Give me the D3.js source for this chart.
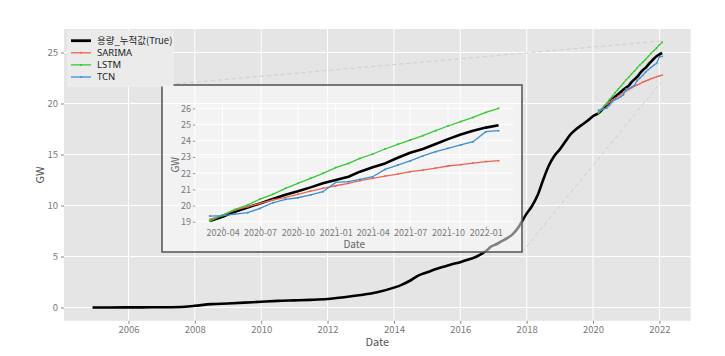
<!DOCTYPE html>
<html><head><meta charset="utf-8">
<script src="https://cdn.jsdelivr.net/npm/d3@7"></script>
<style>body{margin:0;background:#fff} text{font-family:"Noto Sans CJK KR","Noto Sans",sans-serif}</style>
</head><body><svg id="c" width="725" height="356"></svg>
<script>
const trueDates = ["2004-12","2005-06","2006-06","2007-01","2007-08","2008-01","2008-07","2009-01","2009-07","2010-01","2010-07","2011-01","2011-07","2012-01","2012-07","2013-01","2013-07","2014-01","2014-04","2014-07","2014-10","2015-01","2015-04","2015-07","2015-10","2016-01","2016-04","2016-07","2016-09","2016-11","2016-12","2017-02","2017-04","2017-06","2017-08","2017-10","2017-12","2018-01","2018-03","2018-05","2018-07","2018-09","2018-11","2019-01","2019-03","2019-05","2019-07","2019-09","2019-11","2020-01","2020-02",
"2020-03","2020-04","2020-05","2020-06","2020-07","2020-08","2020-09","2020-10","2020-11","2020-12","2021-01","2021-02","2021-03","2021-04","2021-05","2021-06","2021-07","2021-08","2021-09","2021-10","2021-11","2021-12","2022-01","2022-02"];
const trueValues = [0,0.01,0.02,0.03,0.05,0.17,0.33,0.4,0.48,0.57,0.65,0.7,0.75,0.83,1.0,1.22,1.5,1.95,2.25,2.65,3.15,3.45,3.75,4.0,4.25,4.45,4.7,5.0,5.3,5.7,5.95,6.2,6.5,6.8,7.2,7.85,8.75,9.2,9.95,11.0,12.5,13.9,14.85,15.5,16.25,17.0,17.5,17.9,18.3,18.75,18.9,
19.04,19.31,19.62,19.88,20.13,20.4,20.67,20.88,21.12,21.37,21.57,21.78,22.09,22.36,22.6,22.95,23.26,23.49,23.8,24.1,24.39,24.62,24.81,24.95];
const forecastDates = ["2020-03","2020-04","2020-05","2020-06","2020-07","2020-08","2020-09","2020-10","2020-11","2020-12","2021-01","2021-02","2021-03","2021-04","2021-05","2021-06","2021-07","2021-08","2021-09","2021-10","2021-11","2021-12","2022-01","2022-02"];
const sarimaValues = [19.14,19.41,19.72,19.93,20.13,20.34,20.5,20.69,20.89,21.06,21.22,21.37,21.53,21.68,21.82,21.94,22.09,22.19,22.31,22.44,22.52,22.62,22.71,22.77];
const lstmValues = [19.04,19.41,19.76,20.03,20.4,20.69,21.06,21.37,21.68,21.99,22.34,22.6,22.91,23.18,23.49,23.78,24.04,24.31,24.62,24.91,25.18,25.44,25.75,26.0];
const tcnValues = [19.35,19.37,19.47,19.56,19.82,20.17,20.38,20.48,20.65,20.85,21.43,21.47,21.61,21.78,22.23,22.5,22.75,23.06,23.32,23.53,23.74,23.94,24.56,24.62];
const seriesNames = ["용량_누적값(True)","SARIMA","LSTM","TCN"];
const seriesColors = ["#000000","#EF6451","#35C935","#3C8FD2"];
const mainXTicks = [2006,2008,2010,2012,2014,2016,2018,2020,2022];
const mainYTicks = [0,5,10,15,20,25];
const insetYTicks = [19,20,21,22,23,24,25,26];
const insetXTicks = ["2020-04","2020-07","2020-10","2021-01","2021-04","2021-07","2021-10","2022-01"];
const connectorEnds = [["2022-01-20",26.12],["2022-01-20",22.1]];

const parse = d3.timeParse("%Y-%m");
const parseD = d3.timeParse("%Y-%m-%d");
const svg = d3.select("#c");
const trueSeries = trueDates.map((d,i)=>({date:parse(d), v:trueValues[i]}));
const fc = [sarimaValues,lstmValues,tcnValues].map(arr=>forecastDates.map((d,i)=>({date:parse(d), v:arr[i]})));

function expandTime(ext, f){const s=+ext[0], e=+ext[1], p=(e-s)*f; return [new Date(s-p), new Date(e+p)];}
function expandLin(ext, f){const p=(ext[1]-ext[0])*f; return [ext[0]-p, ext[1]+p];}

// main panel
const P = {l:64, r:690.7, t:29, b:320.8};
const x = d3.scaleTime().domain(expandTime(d3.extent(trueSeries,d=>d.date),0.05)).range([P.l,P.r]);
const allV = trueValues.concat(sarimaValues,lstmValues,tcnValues);
const y = d3.scaleLinear().domain(expandLin([0, d3.max(allV)],0.05)).range([P.b,P.t]);

svg.append("rect").attr("x",P.l).attr("y",P.t).attr("width",P.r-P.l).attr("height",P.b-P.t).attr("fill","#e5e5e5");
const gx = mainXTicks.map(yr=>new Date(yr,0,1));
svg.append("g").selectAll("line").data(gx).join("line")
  .attr("x1",d=>x(d)).attr("x2",d=>x(d)).attr("y1",P.t).attr("y2",P.b).attr("stroke","#fff").attr("stroke-width",1);
svg.append("g").selectAll("line").data(mainYTicks).join("line")
  .attr("x1",P.l).attr("x2",P.r).attr("y1",d=>y(d)).attr("y2",d=>y(d)).attr("stroke","#fff").attr("stroke-width",1);

// axes
const xAxis = d3.axisBottom(x).tickValues(gx).tickFormat(d3.timeFormat("%Y")).tickSize(3).tickPadding(2);
const ax = svg.append("g").attr("transform",`translate(0,${P.b})`).call(xAxis);
const yAxis = d3.axisLeft(y).tickValues(mainYTicks).tickSize(3).tickPadding(3);
const ay = svg.append("g").attr("transform",`translate(${P.l},0)`).call(yAxis);
[ax,ay].forEach(g=>{g.select(".domain").remove(); g.selectAll("line").attr("stroke","#888");
  g.selectAll("text").attr("fill","#7a7a7a").style("font-size","9.5px").style("font-family",'"Noto Sans CJK KR",sans-serif');});
svg.append("text").attr("x",(P.l+P.r)/2).attr("y",345.5).attr("text-anchor","middle").attr("fill","#555").style("font-size","11px").text("Date");
svg.append("text").attr("transform",`translate(44,${(P.t+P.b)/2}) rotate(-90)`).attr("text-anchor","middle").attr("fill","#555").style("font-size","11px").text("GW");

// main lines
const line = d3.line().curve(d3.curveMonotoneX).x(d=>x(d.date)).y(d=>y(d.v));
svg.append("path").datum(trueSeries).attr("d",line).attr("fill","none").attr("stroke","#000").attr("stroke-width",2.6).attr("stroke-linejoin","round");
const lineF = d3.line().x(d=>x(d.date)).y(d=>y(d.v));
fc.forEach((s,i)=>{
  svg.append("path").datum(s).attr("d",lineF).attr("fill","none").attr("stroke",seriesColors[i+1]).attr("stroke-width",1.2);
  svg.append("g").selectAll("circle").data(s).join("circle").attr("cx",d=>x(d.date)).attr("cy",d=>y(d.v)).attr("r",0.9).attr("fill",seriesColors[i+1]);
});

// inset box & connectors
const B = {l:162, r:522, t:85, b:252};
const ends = connectorEnds.map(e=>[x(parseD(e[0])), y(e[1])]);
svg.append("line").attr("x1",B.l).attr("y1",B.t).attr("x2",ends[0][0]).attr("y2",ends[0][1]).attr("stroke","#cfcfcf").attr("stroke-width",1).attr("stroke-dasharray","4,3");
svg.append("line").attr("x1",B.r).attr("y1",B.b).attr("x2",ends[1][0]).attr("y2",ends[1][1]).attr("stroke","#cfcfcf").attr("stroke-width",1).attr("stroke-dasharray","4,3");
svg.append("rect").attr("x",B.l).attr("y",B.t).attr("width",B.r-B.l).attr("height",B.b-B.t).attr("fill","#fff").attr("fill-opacity",0.5).attr("stroke","#5a5a5a").attr("stroke-width",1.6);

// inset plot
const I = {l:195.4, r:513, t:102.7, b:226.7};
const insetTrue = trueSeries.filter(d=>d.date>=parse(forecastDates[0]));
const xi = d3.scaleTime().domain(expandTime(d3.extent(insetTrue,d=>d.date),0.05)).range([I.l,I.r]);
const insetV = insetTrue.map(d=>d.v).concat(sarimaValues,lstmValues,tcnValues);
const yi = d3.scaleLinear().domain(expandLin(d3.extent(insetV),0.05)).range([I.b,I.t]);
svg.append("rect").attr("x",I.l).attr("y",I.t).attr("width",I.r-I.l).attr("height",I.b-I.t).attr("fill","#fff").attr("fill-opacity",0.12);
const ixt = insetXTicks.map(parse);
svg.append("g").selectAll("line").data(ixt).join("line")
  .attr("x1",d=>xi(d)).attr("x2",d=>xi(d)).attr("y1",I.t).attr("y2",I.b).attr("stroke","#fff").attr("stroke-width",1);
svg.append("g").selectAll("line").data(insetYTicks).join("line")
  .attr("x1",I.l).attr("x2",I.r).attr("y1",d=>yi(d)).attr("y2",d=>yi(d)).attr("stroke","#fff").attr("stroke-width",1);
const iax = svg.append("g").attr("transform",`translate(0,${I.b})`).call(d3.axisBottom(xi).tickValues(ixt).tickFormat(d3.timeFormat("%Y-%m")).tickSize(2).tickPadding(0.5));
const iay = svg.append("g").attr("transform",`translate(${I.l},0)`).call(d3.axisLeft(yi).tickValues(insetYTicks).tickSize(2.5).tickPadding(2));
[iax,iay].forEach(g=>{g.select(".domain").remove(); g.selectAll("line").attr("stroke","#999");
  g.selectAll("text").attr("fill","#7a7a7a").style("font-size","9px").style("font-family",'"Noto Sans CJK KR",sans-serif');});
svg.append("text").attr("x",(I.l+I.r)/2).attr("y",247.5).attr("text-anchor","middle").attr("fill","#666").style("font-size","10px").text("Date");
svg.append("text").attr("transform",`translate(179,${(I.t+I.b)/2}) rotate(-90)`).attr("text-anchor","middle").attr("fill","#666").style("font-size","10px").text("GW");
const linei = d3.line().x(d=>xi(d.date)).y(d=>yi(d.v));
svg.append("path").datum(insetTrue).attr("d",linei).attr("fill","none").attr("stroke","#000").attr("stroke-width",2.6).attr("stroke-linejoin","round");
fc.forEach((s,i)=>{
  svg.append("path").datum(s).attr("d",linei).attr("fill","none").attr("stroke",seriesColors[i+1]).attr("stroke-width",1.3);
  svg.append("g").selectAll("circle").data(s).join("circle").attr("cx",d=>xi(d.date)).attr("cy",d=>yi(d.v)).attr("r",1).attr("fill",seriesColors[i+1]);
});

// legend
const L = svg.append("g");
L.append("rect").attr("x",68).attr("y",31).attr("width",105).attr("height",55).attr("fill","#ebebeb").attr("stroke","#f0f0f0");
seriesNames.forEach((n,i)=>{
  const yy = 40.7 + i*12.1;
  L.append("line").attr("x1",71).attr("x2",91).attr("y1",yy).attr("y2",yy).attr("stroke",seriesColors[i]).attr("stroke-width",i===0?2.8:1.3);
  if(i>0) L.append("circle").attr("cx",81).attr("cy",yy).attr("r",1).attr("fill",seriesColors[i]);
  L.append("text").attr("x",97).attr("y",yy).attr("dy","0.35em").attr("fill","#222").style("font-size","9.5px").style("font-family",i===0?'"Noto Sans CJK KR",sans-serif':'"Noto Sans",sans-serif').text(n);
});
</script></body></html>
